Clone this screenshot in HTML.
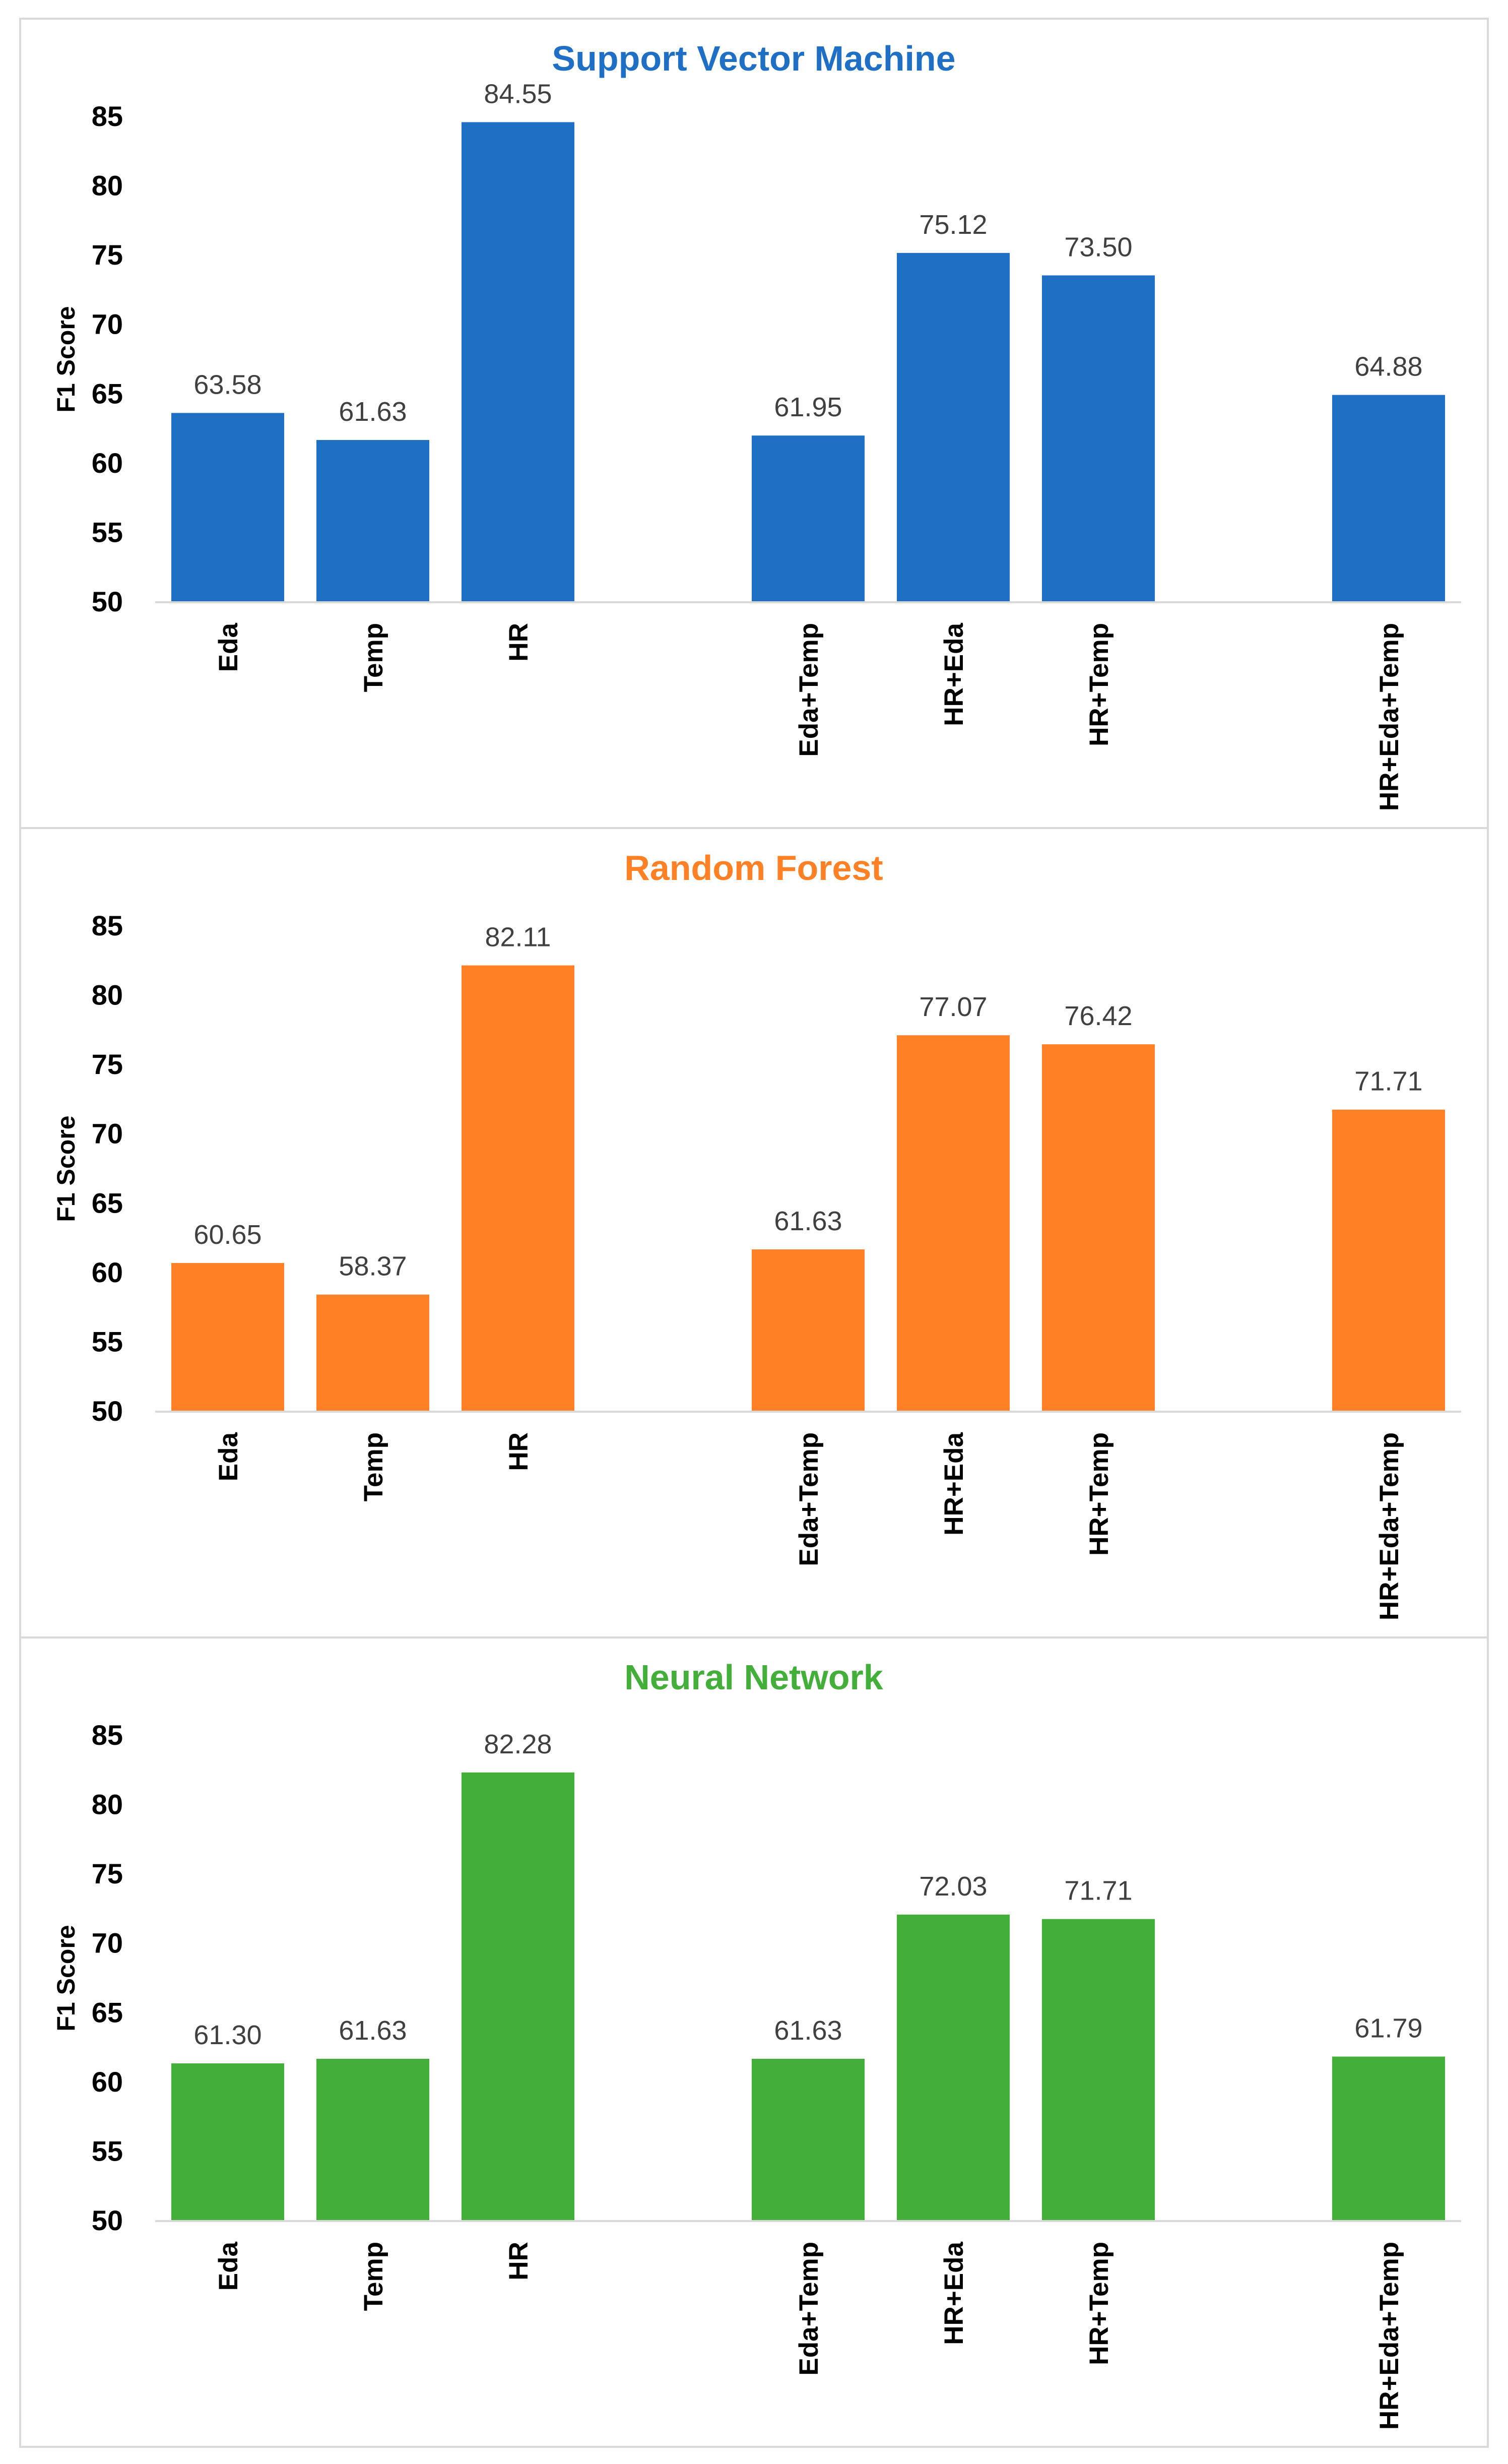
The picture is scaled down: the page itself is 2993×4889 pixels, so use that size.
<!DOCTYPE html>
<html><head><meta charset="utf-8"><style>
html,body{margin:0;padding:0;background:#fff;}
svg{display:block;}
text{font-family:"Liberation Sans",sans-serif;}
</style></head><body>
<svg id="chart" width="2993" height="4889" viewBox="0 0 2993 4889" xmlns="http://www.w3.org/2000/svg"></svg>
<script>
const categories = ["Eda","Temp","HR","Eda+Temp","HR+Eda","HR+Temp","HR+Eda+Temp"];
const slotIndex = [0,1,2,4,5,6,8];
const yTicks = [50,55,60,65,70,75,80,85];
const titles = ["Support Vector Machine","Random Forest","Neural Network"];
const svmValues = [63.58,61.63,84.55,61.95,75.12,73.50,64.88];
const rfValues = [60.65,58.37,82.11,61.63,77.07,76.42,71.71];
const nnValues = [61.30,61.63,82.28,61.63,72.03,71.71,61.79];
const seriesValues = [svmValues, rfValues, nnValues];
const colors = ["#1F70C4","#FF8025","#43AE3A"];
const names = ["svm","random-forest","neural-network"];

const NS = "http://www.w3.org/2000/svg";
const svg = document.getElementById("chart");
function mk(tag, attrs, parent){ const e=document.createElementNS(NS,tag); for(const k in attrs) e.setAttribute(k,attrs[k]); (parent||svg).appendChild(e); return e; }

const panelH = 1606, panelTop0 = 37;
const x0 = 308, x1 = 2900, nSlots = 9, slotW = (x1-x0)/nSlots, barW = 224;
const yMin = 50, yMax = 85;

seriesValues.forEach((vals, p) => {
  const top = panelTop0 + p*panelH;
  const g = mk("g", {});
  
  
  const axisY0 = top + 1156, axisY1 = top + 193;
  const yScale = v => axisY0 - (v - yMin)/(yMax - yMin)*(axisY0 - axisY1);
  const xCenter = s => x0 + (s + 0.5)*slotW;

  const border = mk("rect", {x:40, y:top, width:2913, height:panelH, fill:"none", stroke:"#d9d9d9", "stroke-width":4}, g);
  
  

  const t = mk("text", {x:1496, y:top+103, "text-anchor":"middle", "font-size":70, "font-weight":"bold", fill:colors[p]}, g);
  t.textContent = titles[p];
  
  

  const yt = mk("text", {transform:"translate(148,"+(top+676)+") rotate(-90)", "text-anchor":"middle", "font-size":50, "font-weight":"bold", fill:"#000"}, g);
  yt.textContent = "F1 Score";
  
  

  yTicks.forEach(v => {
    const tl = mk("text", {x:244, y:yScale(v)+20, "text-anchor":"end", "font-size":56, "font-weight":"bold", fill:"#000"}, g);
    tl.textContent = v;
    
    
  });

  vals.forEach((v, i) => {
    const cx = xCenter(slotIndex[i]);
    const b = mk("rect", {x:cx-barW/2, y:yScale(v), width:barW, height:axisY0-yScale(v), fill:colors[p]}, g);
    
    
    const lbl = mk("text", {x:cx, y:yScale(v)-38, "text-anchor":"middle", "font-size":54, fill:"#404040"}, g);
    lbl.textContent = v.toFixed(2);
    
    
    const xl = mk("text", {transform:"translate("+(cx+19)+","+(axisY0+43)+") rotate(-90)", "text-anchor":"end", "font-size":53, "font-weight":"bold", fill:"#000"}, g);
    xl.textContent = categories[i];
    
    
  });

  const ax = mk("line", {x1:x0, x2:x1, y1:axisY0+2, y2:axisY0+2, stroke:"#d9d9d9", "stroke-width":4}, g);
  
  
});
</script>
</body></html>
